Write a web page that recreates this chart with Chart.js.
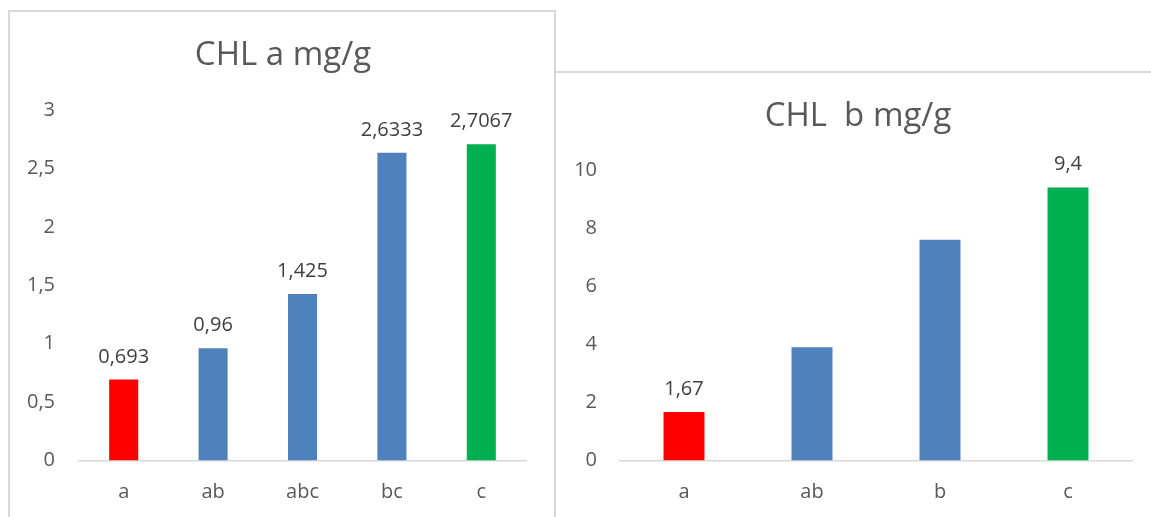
<!DOCTYPE html>
<html>
<head>
<meta charset="utf-8">
<script src="https://cdn.jsdelivr.net/npm/chart.js@4.4.1/dist/chart.umd.min.js"></script>
<style>
  html, body { margin: 0; padding: 0; background: #fff; }
  body { width: 1151px; height: 517px; overflow: hidden; position: relative; }
  .panel { position: absolute; box-sizing: border-box; border: 0 solid #d9d9d9; }
  #p1 { left: 8px; top: 10px; width: 548px; height: 600px; border-width: 2px; }
  #p2 { left: 556px; top: 71px; width: 700px; height: 600px; border-top-width: 2px; }
  canvas { position: absolute; }
  #chartA { left: 10px; top: 12px; }
  #chartB { left: 557px; top: 74px; }
</style>
</head>
<body>
<div class="panel" id="p1"></div>
<div class="panel" id="p2"></div>
<canvas id="chartA" width="544" height="505"></canvas>
<canvas id="chartB" width="594" height="443"></canvas>

<script>
// ข้อมูลกราฟ CHL a
const chlACategories = ['a', 'ab', 'abc', 'bc', 'c'];
const chlAValues = [0.693, 0.96, 1.425, 2.6333, 2.7067];
const chlALabels = ['0,693', '0,96', '1,425', '2,6333', '2,7067'];
const chlAColors = ['#FF0000', '#4F81BD', '#4F81BD', '#4F81BD', '#00B050'];
const chlATicks = [0, 0.5, 1, 1.5, 2, 2.5, 3];

// ข้อมูลกราฟ CHL b
const chlBCategories = ['a', 'ab', 'b', 'c'];
const chlBValues = [1.67, 3.9, 7.6, 9.4];
const chlBLabels = ['1,67', '', '', '9,4'];
const chlBColors = ['#FF0000', '#4F81BD', '#4F81BD', '#00B050'];
const chlBTicks = [0, 2, 4, 6, 8, 10];

const FONT = 'Open Sans';

// ป้ายตัวเลขเหนือแท่ง
const valueLabels = {
    id: 'valueLabels',
    afterDatasetsDraw(chart) {
        const ds = chart.data.datasets[0];
        const meta = chart.getDatasetMeta(0);
        const ctx = chart.ctx;
        ctx.save();
        ctx.font = `20px "${FONT}"`;
        ctx.fillStyle = '#404040';
        ctx.textAlign = 'center';
        ctx.textBaseline = 'alphabetic';
        meta.data.forEach((bar, i) => {
            const t = ds.valueText[i];
            if (t) ctx.fillText(t, bar.x, bar.y - 17);
        });
        ctx.restore();
    }
};

function makeChart(id, o) {
    // เลื่อนหัวข้อให้อยู่กลางกรอบ (แบบ Excel)
    const titleShift = {
        id: 'titleShift',
        afterLayout(chart) {
            const tb = chart.titleBlock;
            if (tb) { tb.left += o.titleShift; tb.right += o.titleShift; }
        }
    };
    return new Chart(document.getElementById(id), {
        type: 'bar',
        data: {
            labels: o.categories,
            datasets: [{
                data: o.values,
                valueText: o.labels,
                backgroundColor: o.colors,
                borderWidth: 0,
                barPercentage: o.barPct,
                categoryPercentage: 1
            }]
        },
        options: {
            responsive: false,
            animation: false,
            layout: { padding: { left: 0, right: o.padRight, top: 0, bottom: 0 } },
            plugins: {
                legend: { display: false },
                tooltip: { enabled: false },
                title: {
                    display: true,
                    text: o.title,
                    color: '#595959',
                    font: { family: FONT, size: 33, weight: 'normal', lineHeight: 1.2 },
                    padding: { top: o.titleTop, bottom: o.titleBottom }
                }
            },
            scales: {
                x: {
                    grid: { display: false, drawTicks: false },
                    border: { display: true, color: '#d9d9d9', width: 1.5 },
                    ticks: { color: '#595959', font: { family: FONT, size: 20 }, padding: 20 },
                    afterFit: s => { s.height = o.xHeight; }
                },
                y: {
                    min: 0,
                    max: o.ticks[o.ticks.length - 1],
                    afterBuildTicks: s => { s.ticks = o.ticks.map(v => ({ value: v })); },
                    grid: { display: false, drawTicks: false },
                    border: { display: false },
                    ticks: {
                        color: '#595959',
                        font: { family: FONT, size: 20 },
                        padding: o.yPad,
                        callback: v => String(v).replace('.', ',')
                    },
                    afterFit: s => { s.width = o.yWidth; }
                }
            }
        },
        plugins: [valueLabels, titleShift]
    });
}

makeChart('chartA', {
    categories: chlACategories, values: chlAValues, labels: chlALabels,
    colors: chlAColors, ticks: chlATicks, title: 'CHL a mg/g',
    barPct: 0.325, padRight: 28, titleTop: 24, titleBottom: 34.4, titleShift: 15,
    xHeight: 56.5, yWidth: 69, yPad: 24
});

makeChart('chartB', {
    categories: chlBCategories, values: chlBValues, labels: chlBLabels,
    colors: chlBColors, ticks: chlBTicks, title: 'CHL  b mg/g',
    barPct: 0.32, padRight: 19, titleTop: 23, titleBottom: 33.4, titleShift: 13.5,
    xHeight: 56.5, yWidth: 63, yPad: 23
});
</script>
</body>
</html>
